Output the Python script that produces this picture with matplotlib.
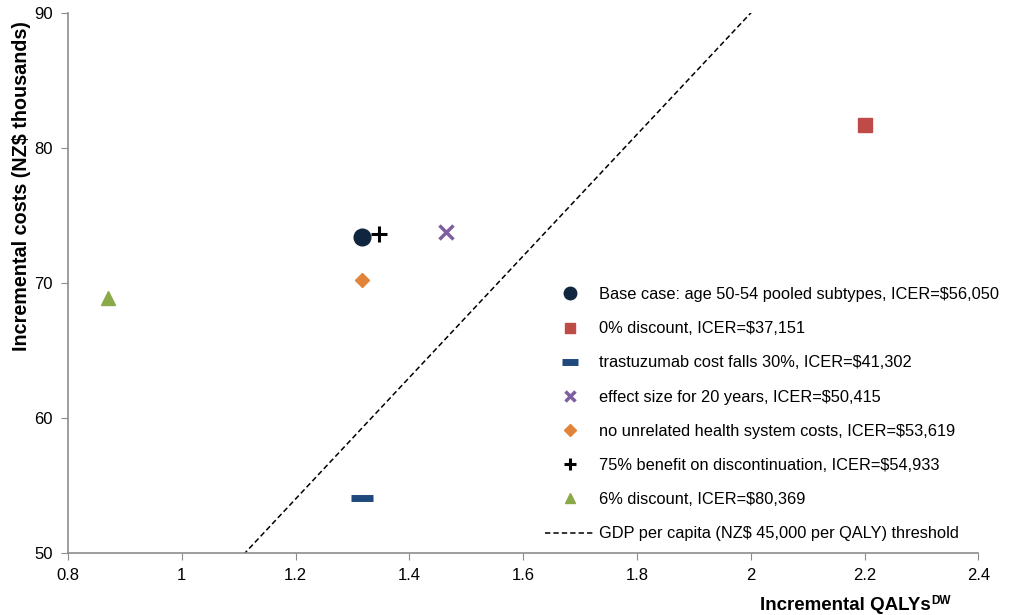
import matplotlib.pyplot as plt
import numpy as np

plt.rcParams['font.family'] = ['Liberation Sans', 'DejaVu Sans']

# Scenario results (incremental QALYs, incremental costs in NZ$ thousands)
labels = [
    'Base case: age 50-54 pooled subtypes, ICER=$56,050',
    '0% discount, ICER=$37,151',
    'trastuzumab cost falls 30%, ICER=$41,302',
    'effect size for 20 years, ICER=$50,415',
    'no unrelated health system costs, ICER=$53,619',
    '75% benefit on discontinuation, ICER=$54,933',
    '6% discount, ICER=$80,369',
]
qalys = [1.317, 2.20, 1.317, 1.464, 1.317, 1.347, 0.870]
costs = [73.4, 81.7, 54.1, 73.8, 70.2, 73.6, 68.9]

markers = ['o', 's', '_', 'x', 'D', '+', '^']
sizes = [12, 10, 16, 10, 7.5, 11, 10]
edge_w = [1, 1, 5, 2.5, 1, 2.2, 1]
colors = ['#10253f', '#be4b48', '#1f497d', '#7f5fa0', '#e2843a', '#000000', '#8aaa49']

# Threshold line: NZ$45,000 per QALY
threshold = 45.0
thr_x = [0.8, 2.4]

fig = plt.figure(figsize=(10.16, 6.15), dpi=100)
ax = fig.add_axes([0.067, 0.101, 0.896, 0.878])

for q, c, m, s, ew, col, lab in zip(qalys, costs, markers, sizes, edge_w, colors, labels):
    if m in ('_', 'x', '+'):
        ax.plot(q, c, marker=m, ms=s, mew=ew, color=col, linestyle='none', label=lab)
    else:
        ax.plot(q, c, marker=m, ms=s, color=col, mec=col, linestyle='none', label=lab)

ax.plot(thr_x, [threshold * v for v in thr_x], linestyle=(0, (3.5, 2)), color='black', lw=1.1,
        label='GDP per capita (NZ$ 45,000 per QALY) threshold')

ax.set_xlim(0.8, 2.4)
ax.set_ylim(50, 90)
ax.set_xticks(np.arange(0.8, 2.41, 0.2))
ax.set_xticklabels(['0.8', '1', '1.2', '1.4', '1.6', '1.8', '2', '2.2', '2.4'])
ax.set_yticks([50, 60, 70, 80, 90])

for side in ['top', 'right']:
    ax.spines[side].set_visible(False)
for side in ['left', 'bottom']:
    ax.spines[side].set_color('#8c8c8c')
    ax.spines[side].set_linewidth(1.2)
ax.tick_params(axis='both', direction='out', length=5, color='#8c8c8c', labelsize=12, pad=6)

# axis titles placed as in the original (y title sits toward the top)
fig.text(22 / 1016, 1 - 186 / 615, 'Incremental costs (NZ$ thousands)', rotation=90,
         fontsize=14.2, fontweight='bold', ha='center', va='center')
xt = fig.text(931 / 1016, 5 / 615, 'Incremental QALYs', fontsize=13.5, fontweight='bold',
              ha='right', va='baseline')
ax.annotate('DW', xy=(1, 0.42), xycoords=xt, xytext=(0.5, 0), textcoords='offset points',
            fontsize=8.5, fontweight='bold', ha='left', va='bottom')

leg = ax.legend(loc='lower right', bbox_to_anchor=(1.039, -0.006), frameon=False, fontsize=11.8,
                labelspacing=1.17, handlelength=3.0, handletextpad=0.3, numpoints=1,
                markerscale=0.75)

plt.savefig('out.png', dpi=100)
